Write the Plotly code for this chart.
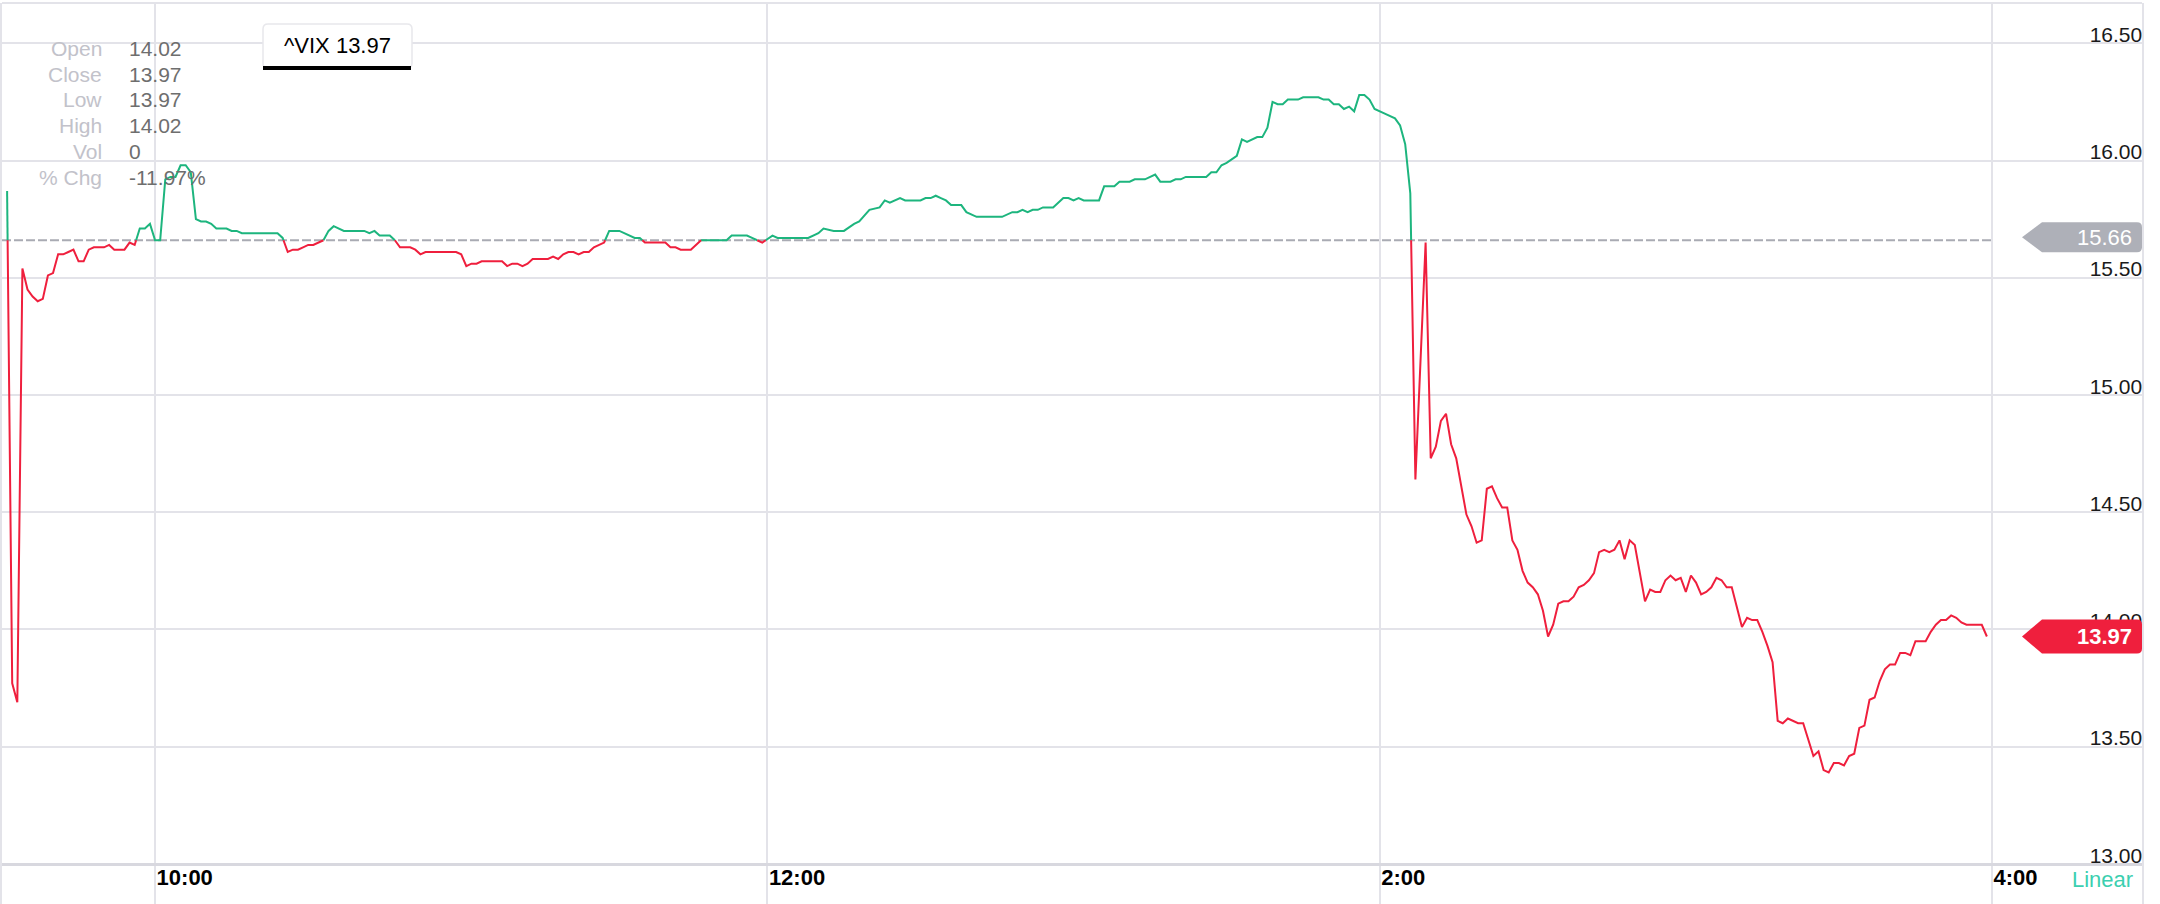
import plotly.graph_objects as go
from datetime import datetime, timedelta

# ---------------- data ----------------
minutes_after_open = [
    1, 2, 3, 4, 5, 6, 7, 8, 9, 10, 11, 12, 13, 14, 15, 16, 17, 18, 20, 21,
    22, 24, 25, 26, 27, 28, 29, 30, 31, 32, 33, 34, 35, 36, 37, 38, 39, 40, 41, 42,
    44, 45, 46, 47,
    54, 55, 56, 57, 58, 59, 60, 61, 62, 63, 64, 65, 66, 67, 71, 72, 73, 74, 76, 77,
    78, 80, 81, 82, 83, 89, 90, 91, 92, 93, 94, 98, 99, 100, 101, 102, 103, 104, 107, 108,
    109, 110, 111, 112, 113, 114, 115, 116,
    117, 118, 119, 121, 122, 124, 125, 126, 130, 131, 132, 133, 135, 136, 137, 142, 143, 146, 147, 149,
    151, 152, 158, 160, 161, 163, 165, 167, 168, 170, 172, 173, 174, 176, 177, 180, 181, 182, 183, 184,
    185, 186, 188, 189, 191, 196, 198, 199, 200, 201, 202, 203, 204, 206, 207, 208, 209, 210, 211, 212,
    215,
    216, 218, 219, 221, 222, 224, 226, 227, 229, 230, 231, 232, 236, 237, 238, 239, 240, 242, 243, 244,
    246, 247, 248, 249, 250, 251, 252, 254, 255, 258, 259, 260, 261, 262, 263, 264, 265, 266, 267, 268,
    269, 271, 273, 274, 275, 276, 277, 279,
    280, 281, 282, 283, 284, 285, 286, 287, 288, 289, 290, 291, 292, 293, 294, 295, 296, 297, 298, 299,
    300, 301, 302, 303, 304, 305, 306, 307, 308, 309, 310, 311, 312, 313, 314, 315, 316, 317, 318, 319,
    320, 321, 322, 323, 324, 325, 326, 327, 328, 329, 330, 331, 332, 333, 334, 335, 336, 337, 338, 339,
    340, 341, 342, 343, 344, 345, 346, 347, 348, 349, 350, 351, 352, 353, 354, 355, 356, 357, 358, 359,
    360, 361, 362, 363, 364, 365, 366, 367, 368, 369, 370, 371, 372, 373, 374, 375, 376, 377, 378, 379,
    380, 381, 382, 383, 384, 385, 386, 388, 389,
]
vix_price = [
    15.87, 13.77, 13.69, 15.54, 15.45, 15.42, 15.40, 15.41, 15.51, 15.52, 15.60, 15.60, 15.61, 15.62, 15.57, 15.57, 15.62, 15.63, 15.63, 15.64,
    15.62, 15.62, 15.65, 15.64, 15.71, 15.71, 15.73, 15.66, 15.66, 15.92, 15.93, 15.93, 15.98, 15.98, 15.95, 15.75, 15.74, 15.74, 15.73, 15.71,
    15.71, 15.70, 15.70, 15.69,
    15.69, 15.67, 15.61, 15.62, 15.62, 15.63, 15.64, 15.64, 15.65, 15.66, 15.70, 15.72, 15.71, 15.70, 15.70, 15.69, 15.70, 15.68, 15.68, 15.66,
    15.63, 15.63, 15.62, 15.60, 15.61, 15.61, 15.60, 15.55, 15.56, 15.56, 15.57, 15.57, 15.55, 15.56, 15.56, 15.55, 15.56, 15.58, 15.58, 15.59,
    15.58, 15.60, 15.61, 15.61, 15.60, 15.61, 15.61, 15.63,
    15.64, 15.65, 15.70, 15.70, 15.69, 15.67, 15.67, 15.65, 15.65, 15.63, 15.63, 15.62, 15.62, 15.64, 15.66, 15.66, 15.68, 15.68, 15.67, 15.65,
    15.68, 15.67, 15.67, 15.69, 15.71, 15.70, 15.70, 15.73, 15.74, 15.79, 15.80, 15.83, 15.82, 15.84, 15.83, 15.83, 15.84, 15.84, 15.85, 15.84,
    15.83, 15.81, 15.81, 15.78, 15.76, 15.76, 15.78, 15.78, 15.79, 15.78, 15.79, 15.79, 15.80, 15.80, 15.82, 15.84, 15.84, 15.83, 15.84, 15.83,
    15.83,
    15.89, 15.89, 15.91, 15.91, 15.92, 15.92, 15.94, 15.91, 15.91, 15.92, 15.92, 15.93, 15.93, 15.95, 15.95, 15.98, 15.99, 16.02, 16.09, 16.08,
    16.10, 16.10, 16.14, 16.25, 16.24, 16.24, 16.26, 16.26, 16.27, 16.27, 16.26, 16.26, 16.24, 16.24, 16.22, 16.23, 16.21, 16.28, 16.28, 16.26,
    16.22, 16.20, 16.18, 16.15, 16.07, 15.86, 14.64, 15.65,
    14.73, 14.78, 14.89, 14.92, 14.79, 14.73, 14.61, 14.49, 14.44, 14.37, 14.38, 14.60, 14.61, 14.56, 14.52, 14.52, 14.38, 14.34, 14.25, 14.20,
    14.18, 14.15, 14.08, 13.97, 14.02, 14.11, 14.12, 14.12, 14.14, 14.18, 14.19, 14.21, 14.24, 14.33, 14.34, 14.33, 14.34, 14.38, 14.30, 14.38,
    14.36, 14.24, 14.12, 14.17, 14.16, 14.16, 14.21, 14.23, 14.21, 14.22, 14.16, 14.23, 14.20, 14.15, 14.16, 14.18, 14.22, 14.21, 14.18, 14.18,
    14.09, 14.01, 14.05, 14.04, 14.04, 13.99, 13.93, 13.86, 13.61, 13.60, 13.62, 13.61, 13.60, 13.60, 13.53, 13.46, 13.48, 13.40, 13.39, 13.43,
    13.43, 13.42, 13.46, 13.47, 13.58, 13.59, 13.70, 13.71, 13.78, 13.83, 13.85, 13.85, 13.90, 13.90, 13.89, 13.95, 13.95, 13.95, 13.99, 14.02,
    14.04, 14.04, 14.06, 14.05, 14.03, 14.02, 14.02, 14.02, 13.97,
]
assert len(minutes_after_open) == len(vix_price)

prev_close = 15.66
last_price = 13.97
symbol_text = "^VIX 13.97"
y_ticks = [13.00, 13.50, 14.00, 14.50, 15.00, 15.50, 16.00, 16.50]
x_tick_minutes = [30, 150, 270, 390]
x_tick_text = ["10:00", "12:00", "2:00", "4:00"]
info_labels = ["Open", "Close", "Low", "High", "Vol", "% Chg"]
info_values = ["14.02", "13.97", "13.97", "14.02", "0", "-11.97%"]
scale_label = "Linear"

# ---------------- styling ----------------
W, H = 2160, 904
ML, MR, MT, MB = 2, 18, 3, 0
PW, PH = W - ML - MR, H - MT - MB
FONT = "Liberation Sans, Arial, Helvetica, sans-serif"
GRID = "#e3e3e9"
GREEN = "#1db57e"
RED = "#ef1f3d"
TAG_GRAY = "#aeb0b8"
DASH_GRAY = "#a9abb3"
Y_RANGE = [12.829, 16.672]

session_open = datetime(2017, 8, 11, 9, 30)


def t(m):
    return session_open + timedelta(minutes=m)


def px(x):
    return (x - ML) / PW


def py(y):
    return 1 - (y - MT) / PH


# split the price line into segments above / below previous close
pts = []
for i, (m, v) in enumerate(zip(minutes_after_open, vix_price)):
    if i:
        m0, v0 = minutes_after_open[i - 1], vix_price[i - 1]
        if (v0 - prev_close) * (v - prev_close) < 0:
            f = (prev_close - v0) / (v - v0)
            pts.append((m0 + (m - m0) * f, prev_close))
    pts.append((m, v))

segs = {"up": [[], []], "down": [[], []]}
last_end = {"up": None, "down": None}
for a, b in zip(pts[:-1], pts[1:]):
    key = "up" if (a[1] + b[1]) / 2 >= prev_close else "down"
    xs, ys = segs[key]
    if last_end[key] != a:
        if xs:
            xs.append(None)
            ys.append(None)
        xs.append(t(a[0]))
        ys.append(a[1])
    xs.append(t(b[0]))
    ys.append(b[1])
    last_end[key] = b

fig = go.Figure()
fig.add_trace(go.Scatter(
    x=[t(0), t(390)], y=[prev_close, prev_close], mode="lines",
    line=dict(color=DASH_GRAY, width=2, dash="9px,3px"), hoverinfo="skip"))
fig.add_trace(go.Scatter(
    x=segs["up"][0], y=segs["up"][1], mode="lines",
    line=dict(color=GREEN, width=2), connectgaps=False))
fig.add_trace(go.Scatter(
    x=segs["down"][0], y=segs["down"][1], mode="lines",
    line=dict(color=RED, width=2), connectgaps=False))

shapes = [
    # top border
    dict(type="line", xref="paper", yref="paper", x0=0, x1=1, y0=1, y1=1,
         line=dict(color=GRID, width=2)),
    # symbol box
    dict(type="path", xref="paper", yref="paper", xsizemode="pixel", ysizemode="pixel",
         xanchor=px(263), yanchor=py(24),
         path="M 5,0 L 144,0 Q 149,0 149,-5 L 149,-39 Q 149,-44 144,-44 L 5,-44 Q 0,-44 0,-39 L 0,-5 Q 0,0 5,0 Z",
         fillcolor="white", line=dict(color="#e8e8ec", width=1.5), layer="above"),
    dict(type="line", xref="paper", yref="paper", x0=px(263), x1=px(411), y0=py(68), y1=py(68),
         line=dict(color="black", width=4), layer="above"),
    # previous close tag
    dict(type="path", xref="paper", yref="y", xsizemode="pixel", ysizemode="pixel",
         xanchor=1, yanchor=prev_close,
         path="M -120,3 L -100,18 L -5,18 Q 0,18 0,13 L 0,-7 Q 0,-12 -5,-12 L -100,-12 Z",
         fillcolor=TAG_GRAY, line=dict(width=0), layer="below"),
    # last price tag
    dict(type="path", xref="paper", yref="y", xsizemode="pixel", ysizemode="pixel",
         xanchor=1, yanchor=last_price,
         path="M -120,0 L -100,17 L -5,17 Q 0,17 0,12 L 0,-12 Q 0,-17 -5,-17 L -100,-17 Z",
         fillcolor=RED, line=dict(width=0), layer="above"),
]

annotations = []
row_y = [48, 74, 99.5, 125, 151, 177]
for lab, val, yy in zip(info_labels, info_values, row_y):
    annotations.append(dict(xref="paper", yref="paper", x=px(104), y=py(yy), text=lab,
                            showarrow=False, xanchor="right", yanchor="middle",
                            font=dict(family=FONT, size=21, color="#c2c2ca")))
    annotations.append(dict(xref="paper", yref="paper", x=px(127), y=py(yy), text=val,
                            showarrow=False, xanchor="left", yanchor="middle",
                            font=dict(family=FONT, size=21, color="#6e6e6e")))
annotations.append(dict(xref="paper", yref="paper", x=px(337), y=py(46), text=symbol_text,
                        showarrow=False, xanchor="center", yanchor="middle",
                        font=dict(family=FONT, size=22, color="black")))
annotations.append(dict(xref="paper", yref="y", x=px(2134), y=prev_close, yshift=3,
                        text=f"{prev_close:.2f}", showarrow=False, xanchor="right",
                        yanchor="middle", font=dict(family=FONT, size=22, color="white")))
annotations.append(dict(xref="paper", yref="y", x=px(2134), y=last_price,
                        text=f"<b>{last_price:.2f}</b>", showarrow=False, xanchor="right",
                        yanchor="middle", font=dict(family=FONT, size=22, color="white")))
annotations.append(dict(xref="paper", yref="paper", x=px(2070), y=py(879), text=scale_label,
                        showarrow=False, xanchor="left", yanchor="middle",
                        font=dict(family=FONT, size=22, color="#3ccfb0")))

# x axis line sits on the lowest price grid line
x_axis_pos = (y_ticks[0] - Y_RANGE[0]) / (Y_RANGE[1] - Y_RANGE[0])

fig.update_layout(
    width=W, height=H,
    margin=dict(l=ML, r=MR, t=MT, b=MB, pad=0, autoexpand=False),
    paper_bgcolor="white", plot_bgcolor="white",
    showlegend=False,
    font=dict(family=FONT),
    shapes=shapes,
    annotations=annotations,
    xaxis=dict(
        type="date", range=[t(0), t(419.4)], automargin=False,
        anchor="free", position=x_axis_pos,
        tickmode="array", tickvals=[t(m) for m in x_tick_minutes],
        ticktext=[f"<b>{s}</b>" for s in x_tick_text],
        ticklabelposition="outside right", ticks="", ticklabelstandoff=-7,
        tickfont=dict(family=FONT, size=22, color="black"),
        showgrid=True, gridcolor=GRID, gridwidth=2,
        showline=True, linecolor="#d8d8df", linewidth=3,
        zeroline=False, fixedrange=True,
    ),
    yaxis=dict(
        side="right", range=Y_RANGE, automargin=False,
        tickmode="array", tickvals=y_ticks,
        ticktext=[f"{v:.2f}" for v in y_ticks],
        ticklabelposition="inside top", ticks="", ticklabelshift=6,
        tickfont=dict(family=FONT, size=21, color="#1a1a1a"),
        showgrid=True, gridcolor=GRID, gridwidth=2,
        showline=True, mirror=True, linecolor=GRID, linewidth=2,
        zeroline=False, fixedrange=True,
    ),
)

fig.write_html(
    "out.html",
    config={"displayModeBar": False},
    post_script="document.body.style.margin='0px';document.body.style.overflow='hidden';",
)
